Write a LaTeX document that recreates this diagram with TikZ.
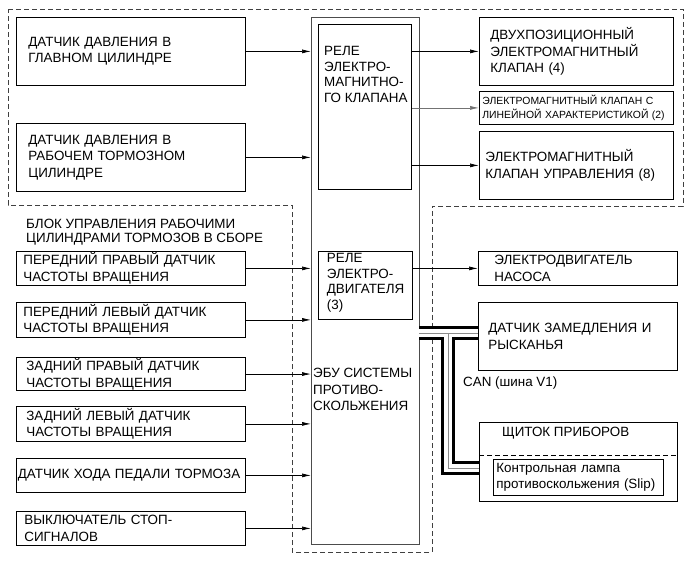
\documentclass[tikz,border=0pt]{standalone}
\usepackage{fontspec}
\setmainfont{Liberation Sans}
\usetikzlibrary{arrows.meta,positioning}

\begin{document}
\begin{tikzpicture}[
  x=1pt, y=-1pt,
  font=\fontsize{13.4}{16.5}\selectfont,
  box/.style={draw, line width=0.8pt, anchor=north west, align=left, inner ysep=1pt},
  small/.style={font=\fontsize{10.4}{14.5}\selectfont},
  note/.style={align=left, inner sep=0pt, anchor=north west},
  tight/.style={font=\fontsize{13.4}{15.5}\selectfont},
  arrow/.style={-{Latex[length=9pt,width=4pt]}, line width=0.7pt},
  zone/.style={dash pattern=on 5pt off 3pt, draw=black!75, line width=0.8pt},
  divider/.style={dash pattern=on 5pt off 3pt, line width=0.7pt}
]
\useasboundingbox (0,0) rectangle (691,564);

\draw[zone] (8,9) -- (683,9) -- (683,206) -- (432,206) -- (432,552)
  -- (292,552) -- (292,205) -- (8,205) -- cycle;

\node[box, minimum width=108pt, minimum height=527pt, draw=black!70] (ecu) at (311,17) {};
\node[note] (ecutxt) at ([shift={(2,351)}]ecu.north west) {ЭБУ СИСТЕМЫ\\ПРОТИВО-\\СКОЛЬЖЕНИЯ};

\node[box, minimum width=93pt, minimum height=165pt] (relv) at (318,24) {};
\node[note, tight] (relvtxt) at ([shift={(6,22.5)}]relv.north west) {РЕЛЕ\\ЭЛЕКТРО-\\МАГНИТНО-\\ГО КЛАПАНА};
\node[box, minimum width=94pt, minimum height=68pt] (relm) at (318,251) {};
\node[note, tight] (relmtxt) at ([shift={(8.7,2.5)}]relm.north west) {РЕЛЕ\\ЭЛЕКТРО-\\ДВИГАТЕЛЯ\\(3)};

\node[box, minimum width=229pt, minimum height=68pt, inner xsep=12pt, text width=205pt] (mcs) at (16,17)
  {ДАТЧИК ДАВЛЕНИЯ В\\ГЛАВНОМ ЦИЛИНДРЕ};
\node[box, minimum width=229pt, minimum height=68pt, inner xsep=12pt, text width=205pt] (wcs) at (16,123)
  {ДАТЧИК ДАВЛЕНИЯ В\\РАБОЧЕМ ТОРМОЗНОМ\\ЦИЛИНДРЕ};

\node[note, font=\fontsize{13.4}{14.5}\selectfont] (blocklbl) at (26,218.5)
  {БЛОК УПРАВЛЕНИЯ РАБОЧИМИ\\ЦИЛИНДРАМИ ТОРМОЗОВ В СБОРЕ};

\node[box, minimum width=229pt, minimum height=34pt, inner xsep=7pt, text width=215pt] (fr) at (16,251)
  {ПЕРЕДНИЙ ПРАВЫЙ ДАТЧИК\\ЧАСТОТЫ ВРАЩЕНИЯ};
\node[box, minimum width=229pt, minimum height=35pt, inner xsep=7pt, text width=215pt] (fl) at (16,302)
  {ПЕРЕДНИЙ ЛЕВЫЙ ДАТЧИК\\ЧАСТОТЫ ВРАЩЕНИЯ};
\node[box, minimum width=229pt, minimum height=31pt, inner xsep=10pt, text width=209pt] (rr) at (16,357)
  {ЗАДНИЙ ПРАВЫЙ ДАТЧИК\\ЧАСТОТЫ ВРАЩЕНИЯ};
\node[box, minimum width=229pt, minimum height=35pt, inner xsep=10pt, text width=209pt] (rl) at (16,406)
  {ЗАДНИЙ ЛЕВЫЙ ДАТЧИК\\ЧАСТОТЫ ВРАЩЕНИЯ};
\node[box, minimum width=229pt, minimum height=34pt, inner xsep=1.5pt, text width=226pt] (ped) at (16,458)
  {ДАТЧИК ХОДА ПЕДАЛИ ТОРМОЗА};
\node[box, minimum width=229pt, minimum height=34pt, inner xsep=8pt, text width=213pt] (stop) at (16,511)
  {ВЫКЛЮЧАТЕЛЬ СТОП-\\СИГНАЛОВ};

\node[box, minimum width=194pt, minimum height=68pt, inner xsep=11pt, text width=172pt] (twop) at (479,17)
  {ДВУХПОЗИЦИОННЫЙ\\ЭЛЕКТРОМАГНИТНЫЙ\\КЛАПАН (4)};
\node[box, small, minimum width=194pt, minimum height=33pt, inner xsep=3pt, text width=188pt] (lin) at (479,91)
  {ЭЛЕКТРОМАГНИТНЫЙ КЛАПАН С\\ЛИНЕЙНОЙ ХАРАКТЕРИСТИКОЙ (2)};
\node[box, minimum width=194pt, minimum height=68pt, inner xsep=6pt, text width=182pt] (ctrl) at (479,131)
  {ЭЛЕКТРОМАГНИТНЫЙ\\КЛАПАН УПРАВЛЕНИЯ (8)};

\node[box, minimum width=199pt, minimum height=34pt, inner xsep=16pt, text width=167pt] (pump) at (478,251)
  {ЭЛЕКТРОДВИГАТЕЛЬ\\НАСОСА};
\node[box, minimum width=199pt, minimum height=68pt, inner xsep=10pt, text width=179pt] (yaw) at (478,302)
  {ДАТЧИК ЗАМЕДЛЕНИЯ И\\РЫСКАНЬЯ};

\node[note, anchor=west] (canlbl) at (463,383) {CAN (шина V1)};

\node[box, minimum width=198pt, minimum height=79pt] (panel) at (479,422) {};
\node[note] (paneltxt) at ([shift={(23,4.7)}]panel.north west) {ЩИТОК ПРИБОРОВ};
\draw[divider] ([yshift=-33pt]panel.north west) -- ([yshift=-33pt]panel.north east);
\node[box, minimum width=170pt, minimum height=36pt, inner xsep=3pt, text width=164pt] (lamp) at (493,459)
  {Контрольная лампа\\противоскольжения (Slip)};

\draw[arrow] (mcs.east) -- (mcs.east -| ecu.west);
\draw[arrow] (wcs.east) -- (wcs.east -| ecu.west);
\draw[arrow] (fr.east) -- (fr.east -| ecu.west);
\draw[arrow] (fl.east) -- (fl.east -| ecu.west);
\draw[arrow] (rr.east) -- (rr.east -| ecu.west);
\draw[arrow] (rl.east) -- (rl.east -| ecu.west);
\draw[arrow] (ped.east) -- (ped.east -| ecu.west);
\draw[arrow] (stop.east) -- (stop.east -| ecu.west);

\draw[arrow] (twop.west -| relv.east) -- (twop.west);
\draw[arrow, draw=black!55] (lin.west -| relv.east) -- (lin.west);
\draw[arrow] (ctrl.west -| relv.east) -- (ctrl.west);
\draw[arrow] (pump.west -| relm.east) -- (pump.west);

\coordinate (busw) at (419,333);
\coordinate (busj) at (448,333);
\coordinate (busc) at (448,468);
\foreach \w/\c in {14pt/black, 8pt/white, 0.8pt/black!45}
  \draw[line width=\w, draw=\c, line join=miter]
    (busw) -- (busw -| yaw.west) (busj) -- (busc) -- (busc -| panel.west);

\end{tikzpicture}
\end{document}
